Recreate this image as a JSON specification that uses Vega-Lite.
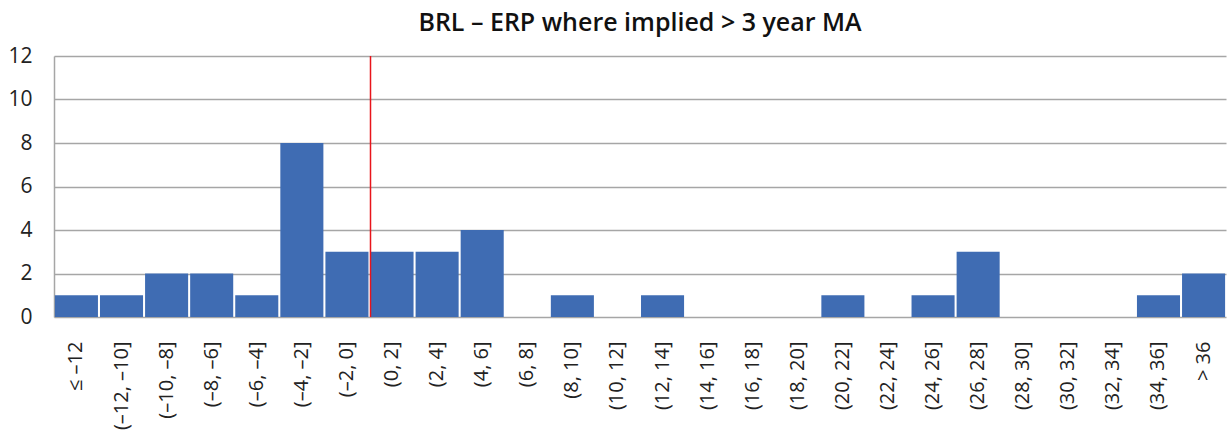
{
  "$schema": "https://vega.github.io/schema/vega-lite/v6.json",
  "autosize": {"type": "none"},
  "width": 1172,
  "height": 261,
  "padding": {"left": 54, "top": 56, "right": 5, "bottom": 116},
  "background": "white",
  "title": {"text": "BRL – ERP where implied > 3 year MA", "font": "Open Sans", "fontSize": 25, "fontWeight": 600, "color": "#111111", "anchor": "middle", "frame": "group", "offset": 9},
  "config": {"view": {"stroke": null}, "font": "Open Sans"},
  "data": {"values": [
    {"bin": "≤ –12", "count": 1},
    {"bin": "(–12, –10]", "count": 1},
    {"bin": "(–10, –8]", "count": 2},
    {"bin": "(–8, –6]", "count": 2},
    {"bin": "(–6, –4]", "count": 1},
    {"bin": "(–4, –2]", "count": 8},
    {"bin": "(–2, 0]", "count": 3},
    {"bin": "(0, 2]", "count": 3},
    {"bin": "(2, 4]", "count": 3},
    {"bin": "(4, 6]", "count": 4},
    {"bin": "(6, 8]", "count": 0},
    {"bin": "(8, 10]", "count": 1},
    {"bin": "(10, 12]", "count": 0},
    {"bin": "(12, 14]", "count": 1},
    {"bin": "(14, 16]", "count": 0},
    {"bin": "(16, 18]", "count": 0},
    {"bin": "(18, 20]", "count": 0},
    {"bin": "(20, 22]", "count": 1},
    {"bin": "(22, 24]", "count": 0},
    {"bin": "(24, 26]", "count": 1},
    {"bin": "(26, 28]", "count": 3},
    {"bin": "(28, 30]", "count": 0},
    {"bin": "(30, 32]", "count": 0},
    {"bin": "(32, 34]", "count": 0},
    {"bin": "(34, 36]", "count": 1},
    {"bin": "> 36", "count": 2}
  ]},
  "layer": [
    {
      "mark": {"type": "bar", "color": "#3F6CB3"},
      "encoding": {
        "x": {"field": "bin", "type": "nominal", "sort": null,
          "scale": {"paddingInner": 0.045, "paddingOuter": 0.02},
          "axis": {"title": null, "labelAngle": -90, "labelAlign": "right", "labelBaseline": "middle", "labelPadding": 24, "labelFontSize": 20, "labelColor": "#222222", "ticks": false, "domain": false, "labelLimit": 200}},
        "y": {"field": "count", "type": "quantitative",
          "scale": {"domain": [0, 12]},
          "axis": {"title": null, "values": [0, 2, 4, 6, 8, 10, 12], "grid": true, "gridColor": "#A6A6A6", "gridWidth": 1.5, "ticks": false, "domainColor": "#A6A6A6", "domainWidth": 1.5, "labelFontSize": 21, "labelColor": "#222222", "labelPadding": 22}}
      }
    },
    {
      "data": {"values": [{"bin": "(0, 2]"}]},
      "mark": {"type": "rule", "color": "#E8141B", "strokeWidth": 1.5},
      "encoding": {
        "x": {"field": "bin", "type": "nominal", "sort": null, "bandPosition": 0}
      }
    }
  ]
}
